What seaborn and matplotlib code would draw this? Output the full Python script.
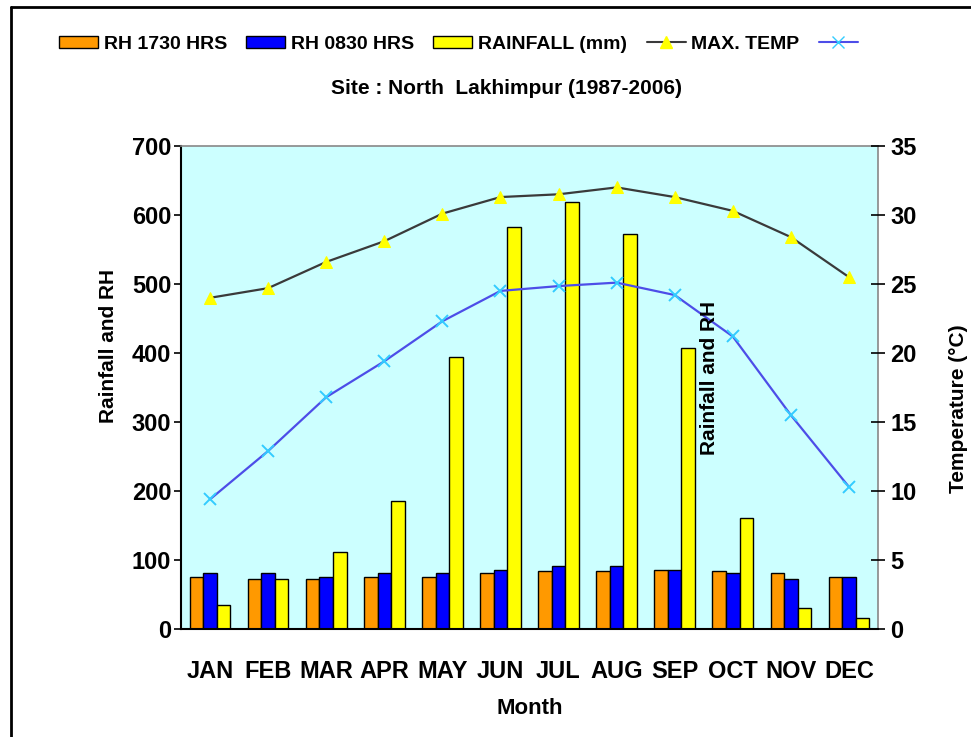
import numpy as np
import pandas as pd
import matplotlib
matplotlib.use('Agg')
import matplotlib.pyplot as plt
from matplotlib.lines import Line2D
from matplotlib.patches import Patch
import seaborn as sns

months = ['JAN', 'FEB', 'MAR', 'APR', 'MAY', 'JUN', 'JUL', 'AUG', 'SEP', 'OCT', 'NOV', 'DEC']
rh_1730 = [76, 73, 73, 76, 76, 81, 84, 84, 86, 84, 81, 76]
rh_0830 = [81, 81, 76, 81, 81, 86, 92, 92, 86, 81, 73, 76]
rainfall = [35, 73, 111, 185, 394, 582, 619, 573, 407, 161, 30, 16]
max_temp = [24.0, 24.7, 26.6, 28.1, 30.1, 31.3, 31.5, 32.0, 31.3, 30.3, 28.4, 25.5]
min_temp = [9.4, 12.9, 16.8, 19.4, 22.3, 24.5, 24.85, 25.1, 24.2, 21.2, 15.5, 10.3]

series_names = ['RH 1730 HRS', 'RH 0830 HRS', 'RAINFALL (mm)']
bar_colors = ['#FF9900', '#0000FF', '#FFFF00']

df = pd.DataFrame({'Month': months, series_names[0]: rh_1730,
                   series_names[1]: rh_0830, series_names[2]: rainfall})
df_long = df.melt(id_vars='Month', var_name='series', value_name='value')

sns.set_style('white')
plt.rcParams['font.family'] = ['Liberation Sans', 'DejaVu Sans']
plt.rcParams['font.weight'] = 'bold'
plt.rcParams['text.color'] = 'black'
plt.rcParams['xtick.color'] = 'black'
plt.rcParams['ytick.color'] = 'black'
plt.rcParams['axes.labelcolor'] = 'black'

fig = plt.figure(figsize=(9.71, 7.37), dpi=100)
ax = fig.add_axes([0.1864, 0.1465, 0.7178, 0.6554])
ax.set_facecolor('#CCFFFF')

sns.barplot(data=df_long, x='Month', y='value', hue='series', order=months,
            hue_order=series_names, palette=bar_colors, saturation=1, width=0.7,
            edgecolor='black', linewidth=1.0, ax=ax, legend=False)

ax.set_xlim(-0.5, 11.5)
ax.set_ylim(0, 700)
ax.set_yticks(np.arange(0, 701, 100))
ax.set_xticks(np.arange(12))
ax.set_xticklabels(months, fontsize=17, fontweight='bold')
ax.set_xticks(np.arange(-0.5, 12, 1), minor=True)
ax.tick_params(axis='x', which='major', length=0, pad=22)
ax.tick_params(axis='x', which='minor', length=8, direction='inout', width=1.2, color='#333333')
ax.tick_params(axis='y', length=5, direction='out', width=1.2, labelsize=17, left=True, pad=2)
for lbl in ax.get_yticklabels():
    lbl.set_fontweight('bold')
ax.set_xlabel('Month', fontsize=16, fontweight='bold', labelpad=11)
ax.set_ylabel('')

for side in ['left', 'bottom']:
    ax.spines[side].set_color('black')
    ax.spines[side].set_linewidth(1.5)
for side in ['top', 'right']:
    ax.spines[side].set_color('#888888')
    ax.spines[side].set_linewidth(1.2)

ax2 = ax.twinx()
x_pos = np.arange(len(months))
sns.lineplot(x=x_pos, y=max_temp, ax=ax2, color='#3A3A3A', linewidth=1.6,
             marker='^', markersize=8, markerfacecolor='#FFFF00', markeredgecolor='#FFFF00')
sns.lineplot(x=x_pos, y=min_temp, ax=ax2, color='#4D4DE8', linewidth=1.6,
             marker='x', markersize=9, markeredgecolor='#33CCFF', markeredgewidth=1.4)
ax2.set_ylim(0, 35)
ax2.set_yticks(np.arange(0, 36, 5))
ax2.tick_params(axis='y', length=10, direction='inout', width=1.2, labelsize=17, pad=4, right=True)
for lbl in ax2.get_yticklabels():
    lbl.set_fontweight('bold')
ax2.set_xlim(-0.5, 11.5)
for side in ax2.spines:
    ax2.spines[side].set_visible(False)

fig.text(0.112, 0.53, 'Rainfall and RH', rotation=90, ha='center', va='center',
         fontsize=15, fontweight='bold')
fig.text(0.731, 0.487, 'Rainfall and RH', rotation=90, ha='center', va='center',
         fontsize=15, fontweight='bold')
fig.text(0.987, 0.445, 'Temperature (°C)', rotation=90, ha='center', va='center',
         fontsize=15, fontweight='bold')

fig.text(0.522, 0.88, 'Site : North  Lakhimpur (1987-2006)', ha='center', va='center',
         fontsize=15, fontweight='bold')

handles = [Patch(facecolor=c, edgecolor='black') for c in bar_colors]
handles.append(Line2D([], [], color='#3A3A3A', marker='^', markersize=9,
                      markerfacecolor='#FFFF00', markeredgecolor='#FFFF00'))
handles.append(Line2D([], [], color='#4D4DE8', marker='x', markersize=9,
                      markeredgecolor='#33CCFF'))
labels = series_names + ['MAX. TEMP', '']
fig.legend(handles, labels, loc='center', bbox_to_anchor=(0.475, 0.94), ncol=5,
           frameon=False, handlelength=2.0, handleheight=0.6,
           handletextpad=0.3, columnspacing=1.0, prop={'weight': 'bold', 'size': 14})

fig.add_artist(Line2D([0.011, 1.0], [0.9905, 0.9905], transform=fig.transFigure,
                      color='black', linewidth=2))
fig.add_artist(Line2D([0.0115, 0.0115], [0.0, 0.9905], transform=fig.transFigure,
                      color='black', linewidth=2))

fig.savefig('out.png', dpi=100, facecolor='white')
